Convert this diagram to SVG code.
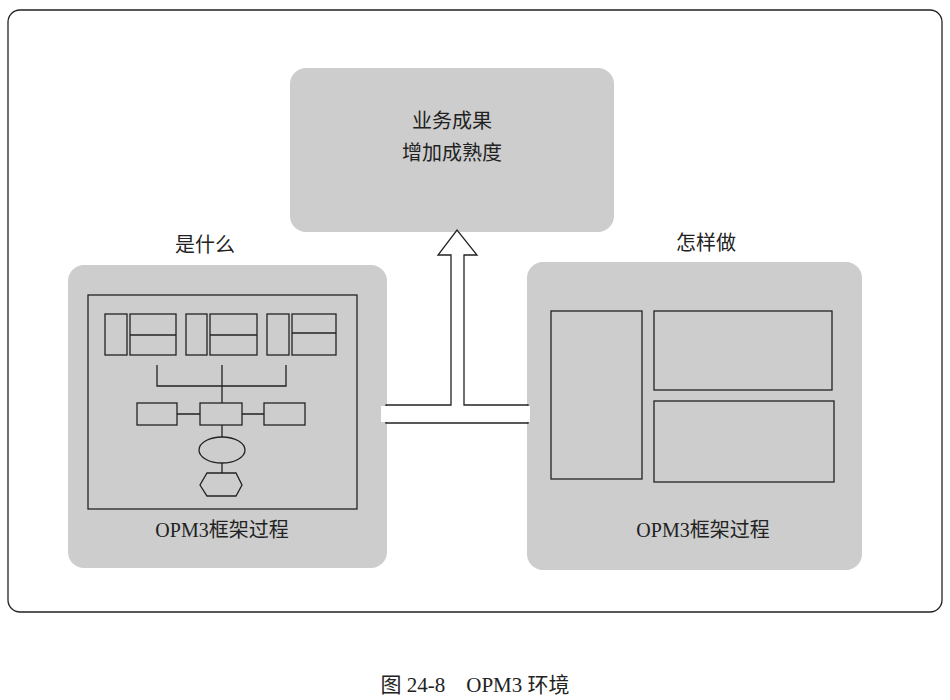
<svg xmlns="http://www.w3.org/2000/svg" width="950" height="700" viewBox="0 0 950 700">
<style>
.panel{fill:#cdcdcd;stroke:none}
.ln{fill:none;stroke:#222;stroke-width:1.3}
.bx{fill:#cdcdcd;stroke:#222;stroke-width:1.3}
.t{font-family:"Liberation Serif","Noto Sans CJK SC",serif;fill:#222}
</style>
<rect width="950" height="700" fill="#fff"/>
<rect x="8" y="10" width="934" height="602" rx="12" fill="none" stroke="#222" stroke-width="1.3"/>
<g id="top"><rect class="panel" x="290" y="68" width="324" height="164" rx="16"/>
<text class="t" x="452" y="128" font-size="20" text-anchor="middle">业务成果</text>
<text class="t" x="452" y="160" font-size="20" text-anchor="middle">增加成熟度</text></g>
<g id="left"><rect class="panel" x="68" y="265" width="319" height="303" rx="16"/>
<text class="t" x="205" y="252" font-size="20" text-anchor="middle">是什么</text>
<rect class="ln" x="88" y="295" width="269" height="214"/>
<rect class="bx" x="105" y="314" width="22" height="41"/><rect class="bx" x="130" y="314" width="46" height="41"/><line class="ln" x1="130" y1="335" x2="176" y2="335"/>
<rect class="bx" x="186" y="314" width="21" height="41"/><rect class="bx" x="210" y="314" width="47" height="41"/><line class="ln" x1="210" y1="335" x2="257" y2="335"/>
<rect class="bx" x="267" y="314" width="22" height="41"/><rect class="bx" x="292" y="314" width="44" height="41"/><line class="ln" x1="292" y1="333" x2="336" y2="333"/>
<path class="ln" d="M157 365V386H286V365M222 365V403"/>
<rect class="bx" x="137" y="403" width="40" height="22"/><rect class="bx" x="200" y="403" width="42" height="22"/><rect class="bx" x="264" y="403" width="41" height="22"/>
<path class="ln" d="M177 414H200M242 414H264M222 425V437M222 463V473"/>
<ellipse class="bx" cx="222" cy="450" rx="23" ry="13"/>
<polygon class="bx" points="207,473 236,473 242,485 236,496 207,496 200,485"/>
<text class="t" x="222" y="537" font-size="20" text-anchor="middle">OPM3框架过程</text></g>
<g id="right"><rect class="panel" x="527" y="262" width="335" height="308" rx="16"/>
<text class="t" x="706" y="250" font-size="20" text-anchor="middle">怎样做</text>
<rect class="bx" x="551" y="311" width="91" height="168"/>
<rect class="bx" x="654" y="311" width="178" height="79"/>
<rect class="bx" x="654" y="401" width="180" height="81"/>
<text class="t" x="703" y="537" font-size="20" text-anchor="middle">OPM3框架过程</text></g>
<g id="connectors"><path d="M386 405H451V255H438L457 230L477 255H464V405H528V423H386Z" fill="#fff" stroke="#222" stroke-width="1.3"/>
<rect x="381" y="406" width="6" height="16" fill="#fff"/><rect x="526" y="406" width="4" height="16" fill="#fff"/></g>
<text class="t" x="475" y="692" font-size="21" text-anchor="middle">图 24-8　OPM3  环境</text>
</svg>
